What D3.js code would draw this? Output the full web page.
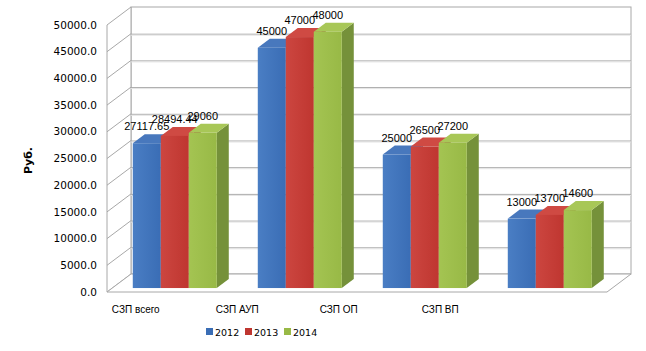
<!DOCTYPE html>
<meta charset="utf-8">
<style>
  body { margin: 0; background: #fff; }
  text { fill: #000; }
  .tick-label { font: 10.5px "DejaVu Sans", Verdana, sans-serif; }
  .value-label { font: 11px "Liberation Sans", Arial, sans-serif; }
  .cat-label { font: 10px "Liberation Sans", Arial, sans-serif; }
  .legend-label { font: 9.5px "DejaVu Sans", Verdana, sans-serif; }
</style>
<body>
<div id="chart"></div>
<script src="https://cdnjs.cloudflare.com/ajax/libs/d3/7.8.5/d3.min.js"></script>
<script>
  // data
  var categories = ["СЗП всего", "СЗП АУП", "СЗП ОП", "СЗП ВП"];
  var years = ["2012", "2013", "2014"];
  var values2012 = [27117.65, 45000, 25000, 13000];
  var values2013 = [28494.44, 47000, 26500, 13700];
  var values2014 = [29060, 48000, 27200, 14600];
  var tickValues = d3.range(0, 50001, 5000);

  var series = [values2012, values2013, values2014];
  var colors = [
    { front: "#3a6db5", light: "#4a7ec4", top: "#4878bd", side: "#2c5592" },
    { front: "#bf3630", light: "#cc4640", top: "#cf4a43", side: "#902a25" },
    { front: "#98b946", light: "#a4c452", top: "#a8c757", side: "#75913a" }
  ];

  var W = 646, H = 351;
  var svg = d3.select("#chart").append("svg")
    .attr("width", W)
    .attr("height", H);

  // 3d frame
  var front = { left: 107, right: 607, bottom: 292, top: 25 };
  var depth = { dx: 24, dy: -18 };
  var barPlane = 0.22; // fraction of depth where bar fronts sit
  var barDepth = { dx: 12, dy: -9 };

  var y = d3.scaleLinear().domain([0, 50000]).range([front.bottom, front.top]);
  var x = d3.scaleBand().domain(categories).range([front.left, front.right]);
  var groupW = 84;
  var xs = d3.scaleBand().domain(years).range([0, groupW]);
  var labelX = d3.scaleBand().domain(categories).range([85, 491]);

  var defs = svg.append("defs");
  colors.forEach(function (c, i) {
    var g = defs.append("linearGradient").attr("id", "grad" + i)
      .attr("x1", 0).attr("y1", 0).attr("x2", 1).attr("y2", 0);
    g.append("stop").attr("offset", "0%").attr("stop-color", c.light);
    g.append("stop").attr("offset", "100%").attr("stop-color", c.front);
  });

  var gridColor = "#a8a8a8";

  // back wall
  svg.append("rect")
    .attr("x", front.left + depth.dx)
    .attr("y", y(50000) + depth.dy)
    .attr("width", front.right - front.left)
    .attr("height", y(0) - y(50000))
    .attr("fill", "#fff")
    .attr("stroke", gridColor);

  // left wall
  svg.append("path")
    .attr("d", "M" + front.left + "," + y(0) + "L" + front.left + "," + y(50000) +
      "L" + (front.left + depth.dx) + "," + (y(50000) + depth.dy) +
      "L" + (front.left + depth.dx) + "," + (y(0) + depth.dy) + "Z")
    .attr("fill", "#fff")
    .attr("stroke", gridColor);

  // floor
  svg.append("path")
    .attr("d", "M" + front.left + "," + y(0) + "L" + front.right + "," + y(0) +
      "L" + (front.right + depth.dx) + "," + (y(0) + depth.dy) +
      "L" + (front.left + depth.dx) + "," + (y(0) + depth.dy) + "Z")
    .attr("fill", "#fff")
    .attr("stroke", gridColor);

  // gridlines on back wall and left wall
  var grid = svg.append("g");
  grid.selectAll(".gl").data(tickValues.slice(1, -1)).enter().append("line")
    .attr("x1", front.left + depth.dx).attr("x2", front.right + depth.dx)
    .attr("y1", function (d) { return y(d) + depth.dy + 0.5; })
    .attr("y2", function (d) { return y(d) + depth.dy + 0.5; })
    .attr("stroke", gridColor);
  grid.selectAll(".gl2").data(tickValues.slice(1, -1)).enter().append("line")
    .attr("x1", front.left + depth.dx).attr("x2", front.right + depth.dx)
    .attr("y1", function (d) { return y(d) + depth.dy + 1.5; })
    .attr("y2", function (d) { return y(d) + depth.dy + 1.5; })
    .attr("stroke", "#e4e4e4");
  grid.selectAll(".gd").data(tickValues.slice(1, -1)).enter().append("line")
    .attr("x1", front.left).attr("x2", front.left + depth.dx)
    .attr("y1", function (d) { return y(d); })
    .attr("y2", function (d) { return y(d) + depth.dy; })
    .attr("stroke", gridColor);

  // y tick labels
  svg.append("g").selectAll("text").data(tickValues).enter().append("text")
    .attr("class", "tick-label")
    .attr("x", front.left - 10)
    .attr("y", function (d) { return y(d); })
    .attr("dy", "0.35em")
    .attr("text-anchor", "end")
    .text(function (d) { return d3.format(".1f")(d); });

  // y title
  svg.append("text")
    .attr("transform", "translate(32," + ((y(0) + y(50000)) / 2 + 2) + ") rotate(-90)")
    .attr("text-anchor", "middle")
    .style("font", "bold 11px 'DejaVu Sans', Verdana, sans-serif")
    .text("Руб.");

  // bars
  var bx0 = depth.dx * barPlane + (x.bandwidth() - groupW) / 2;
  var by0 = depth.dy * barPlane;
  var bars = [];
  categories.forEach(function (c, ci) {
    years.forEach(function (yr, si) {
      bars.push({ cat: c, year: yr, si: si, value: series[si][ci] });
    });
  });

  var barG = svg.append("g");
  bars.forEach(function (d) {
    var x0 = bx0 + x(d.cat) + xs(d.year);
    var x1 = x0 + xs.bandwidth();
    var yb = y(0) + by0;
    var yt = y(d.value) + by0;
    var c = colors[d.si];
    var g = barG.append("g");
    // side
    g.append("path")
      .attr("d", "M" + x1 + "," + yb + "L" + x1 + "," + yt + "L" + (x1 + barDepth.dx) + "," + (yt + barDepth.dy) +
        "L" + (x1 + barDepth.dx) + "," + (yb + barDepth.dy) + "Z")
      .attr("fill", c.side);
    // top
    g.append("path")
      .attr("d", "M" + x0 + "," + yt + "L" + x1 + "," + yt + "L" + (x1 + barDepth.dx) + "," + (yt + barDepth.dy) +
        "L" + (x0 + barDepth.dx) + "," + (yt + barDepth.dy) + "Z")
      .attr("fill", c.top);
    // front
    g.append("rect")
      .attr("x", x0).attr("y", yt)
      .attr("width", xs.bandwidth()).attr("height", yb - yt)
      .attr("fill", "url(#grad" + d.si + ")");
  });

  // value labels
  svg.append("g").selectAll("text").data(bars).enter().append("text")
    .attr("class", "value-label")
    .attr("x", function (d) { return bx0 + x(d.cat) + xs(d.year) + xs.bandwidth() / 2; })
    .attr("y", function (d) { return y(d.value) + by0 - 13; })
    .attr("text-anchor", "middle")
    .text(function (d) { return String(d.value); });

  // category labels
  svg.append("g").selectAll("text").data(categories).enter().append("text")
    .attr("class", "cat-label")
    .attr("x", function (d) { return labelX(d) + labelX.bandwidth() / 2; })
    .attr("y", 313)
    .attr("text-anchor", "middle")
    .text(function (d) { return d; });

  // legend
  var lx = d3.scaleBand().domain(years).range([206, 323]);
  var legend = svg.append("g").selectAll("g").data(years).enter().append("g")
    .attr("transform", function (d) { return "translate(" + lx(d) + ",336)"; });
  legend.append("rect")
    .attr("x", 0).attr("y", -8).attr("width", 7).attr("height", 7)
    .attr("fill", function (d, i) { return colors[i].front; });
  legend.append("text")
    .attr("class", "legend-label")
    .attr("x", 9).attr("y", 0)
    .text(function (d) { return d; });
</script>
</body>
